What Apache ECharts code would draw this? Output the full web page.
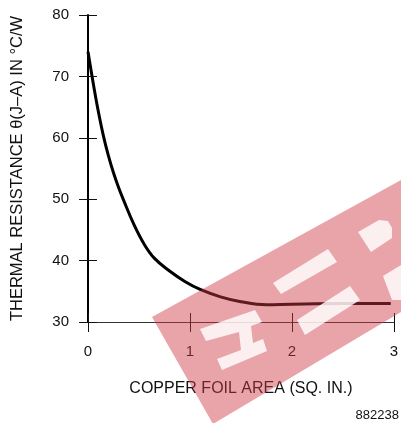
<!DOCTYPE html>
<html>
<head>
<meta charset="utf-8">
<script src="https://cdn.jsdelivr.net/npm/echarts@6/dist/echarts.min.js"></script>
<style>
html,body{margin:0;padding:0;background:#fff;}
#chart{width:401px;height:423px;}
</style>
</head>
<body>
<div id="chart"></div>
<script>
// Copper foil area (sq. in.)
var areaValues = [0, 0.05, 0.1, 0.15, 0.2, 0.25, 0.3, 0.35, 0.45, 0.55, 0.65, 0.8, 0.95, 1.1, 1.3, 1.5, 1.75, 2.0, 2.5, 2.97];
// Thermal resistance theta(J-A) in °C/W
var thetaValues = [74.0, 69.0, 64.4, 60.4, 57.1, 54.3, 51.9, 49.8, 45.9, 42.7, 40.4, 38.3, 36.6, 35.3, 34.1, 33.3, 32.8, 32.9, 33.0, 33.0];
var xTickLabels = ['0', '1', '2', '3'];
var yTickLabels = ['30', '40', '50', '60', '70', '80'];
var xTitle = 'COPPER FOIL AREA (SQ. IN.)';
var yTitle = 'THERMAL RESISTANCE \u03B8(J\u2013A) IN \u00B0C/W';
var figureCode = '882238';

var FONT = 'Liberation Sans';
var chart = echarts.init(document.getElementById('chart'), null, {renderer: 'canvas'});

var seriesData = areaValues.map(function (x, i) { return [x, thetaValues[i]]; });

var wmBand = 'rgba(208,57,70,0.46)';
var wmCut = 'rgba(255,255,255,0.82)';
function poly(points, fill) {
  return {type: 'polygon', z: 100, silent: true, shape: {points: points}, style: {fill: fill}};
}

chart.setOption({
  animation: false,
  backgroundColor: '#fff',
  textStyle: {fontFamily: FONT},
  grid: {left: 88, right: 6, top: 15, bottom: 101, containLabel: false},
  xAxis: [{
    type: 'value', min: 0, max: 3, interval: 1,
    name: xTitle, nameLocation: 'middle', nameGap: 59,
    nameTextStyle: {fontSize: 16, color: '#111', fontFamily: FONT},
    axisLine: {show: true, lineStyle: {color: '#333', width: 1.2}},
    axisTick: {show: true, length: 10, lineStyle: {color: '#111', width: 1}},
    axisLabel: {margin: 22, fontSize: 15, color: '#111', fontFamily: FONT,
      formatter: function (v) { return xTickLabels[Math.round(v)]; }},
    splitLine: {show: false}
  }, {
    type: 'value', min: 0, max: 3, interval: 1, position: 'bottom',
    axisLine: {show: false},
    axisTick: {show: true, inside: true, length: 9, lineStyle: {color: '#111', width: 1}},
    axisLabel: {show: false},
    splitLine: {show: false}
  }],
  yAxis: [{
    type: 'value', min: 30, max: 80, interval: 10,
    name: yTitle, nameLocation: 'middle', nameGap: 62, nameRotate: 90,
    nameTextStyle: {fontSize: 16.5, color: '#111', fontFamily: FONT},
    axisLine: {show: true, lineStyle: {color: '#000', width: 2}},
    axisTick: {show: true, length: 9, lineStyle: {color: '#111', width: 1}},
    axisLabel: {margin: 19, fontSize: 15, color: '#111', fontFamily: FONT,
      formatter: function (v) { return yTickLabels[Math.round((v - 30) / 10)]; }},
    splitLine: {show: false}
  }, {
    type: 'value', min: 30, max: 80, interval: 10, position: 'left',
    axisLine: {show: false},
    axisTick: {show: true, inside: true, length: 9, lineStyle: {color: '#111', width: 1}},
    axisLabel: {show: false},
    splitLine: {show: false}
  }],
  series: [{
    type: 'line', xAxisIndex: 0, yAxisIndex: 0,
    data: seriesData, smooth: 0.4, showSymbol: false,
    lineStyle: {color: '#000', width: 3}, z: 5
  }],
  graphic: [
    poly([[152, 317], [401, 180], [401, 312], [213, 424]], wmBand),
    poly([[273, 283], [328, 249], [337, 262], [281, 294]], wmCut),
    poly([[358, 232], [379, 220], [388, 221], [392, 228], [392, 238], [371, 252]], wmCut),
    poly([[297, 320], [350, 286], [360, 300], [305, 335]], wmCut),
    poly([[383, 276], [401, 265], [401, 300], [392, 300]], wmCut),
    poly([[200, 329], [255, 310], [262, 322], [251, 326], [253, 343], [263, 339], [267, 351], [222, 370], [217, 359], [241, 350], [239, 332], [206, 341]], wmCut),
    {type: 'text', right: 2, top: 409, z: 50, silent: true,
      style: {text: figureCode, fontSize: 13, fill: '#111', fontFamily: FONT}}
  ]
});
</script>
</body>
</html>
